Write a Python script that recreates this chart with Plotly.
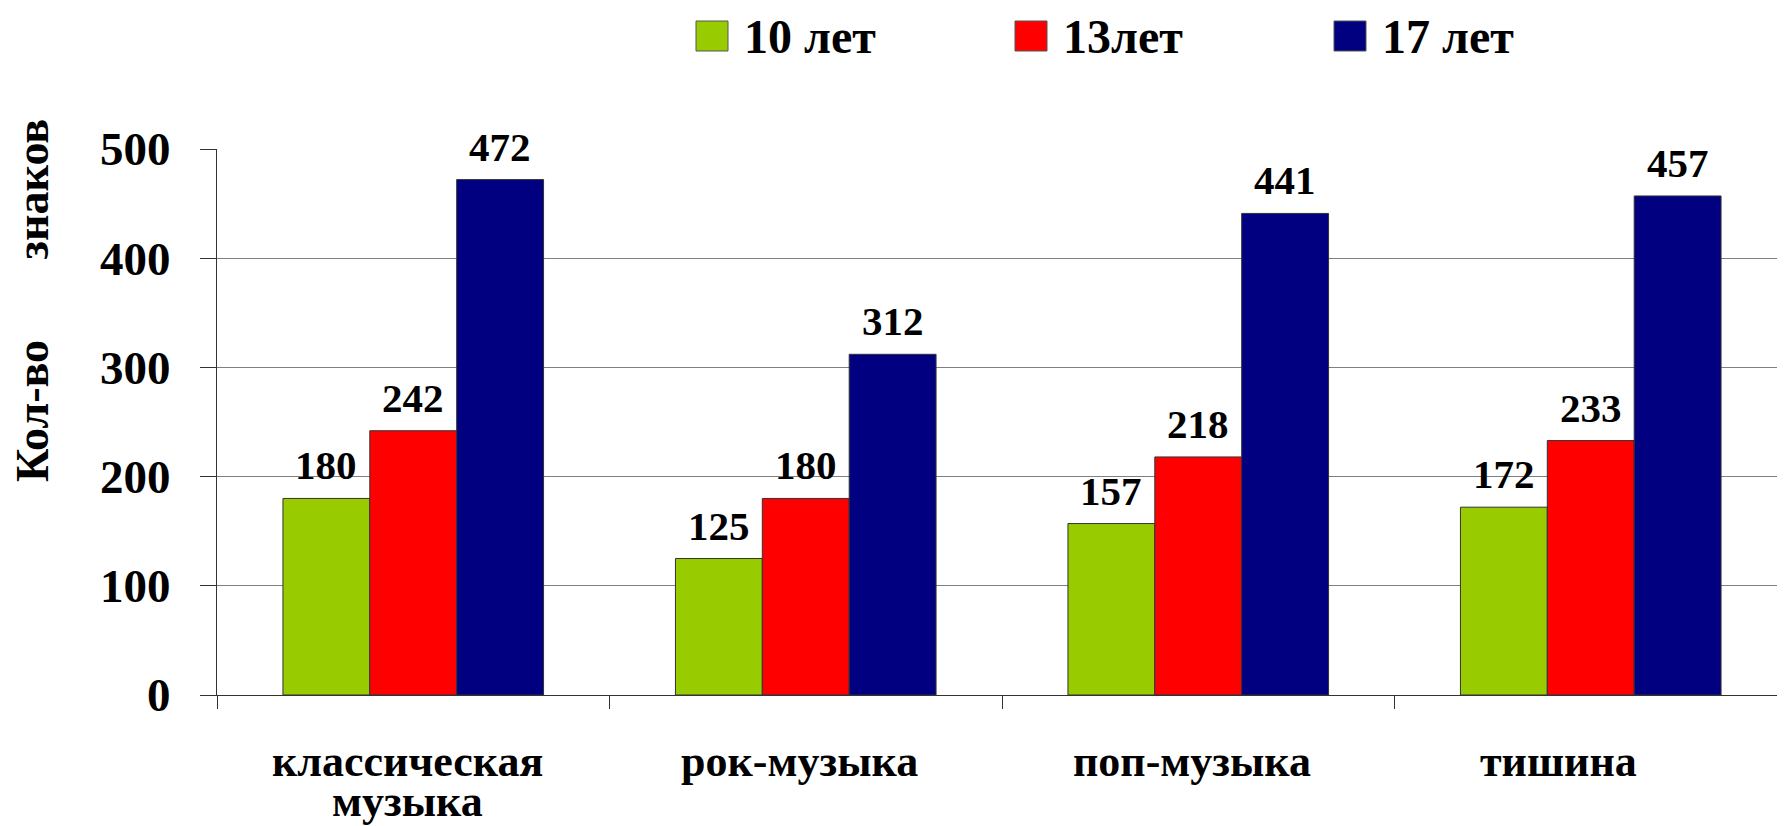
import plotly.graph_objects as go

categories = ["классическая\nмузыка", "рок-музыка", "поп-музыка", "тишина"]
series_names = ["10 лет", "13лет", "17 лет"]
values_10 = [180, 125, 157, 172]
values_13 = [242, 180, 218, 233]
values_17 = [472, 312, 441, 457]
colors = ["#99CC00", "#FF0000", "#000080"]
y_ticks = [0, 100, 200, 300, 400, 500]

FONT = "Liberation Serif, Tinos, Times New Roman, DejaVu Serif, serif"
W, H = 1785, 826
L, R, T, B = 209, 6, 141, 139
BARGAP = 0.336

plot_w = W - L - R
plot_h = H - T - B


def px_x(px):
    return (px - L) / plot_w


def px_y(py):
    return (H - B - py) / plot_h


fig = go.Figure()
all_vals = [values_10, values_13, values_17]
for name, vals, col in zip(series_names, all_vals, colors):
    fig.add_trace(go.Bar(
        x=categories, y=vals, name=name, showlegend=False,
        marker=dict(color=col, line=dict(color="#333333", width=1)),
    ))

cat_w = plot_w / len(categories)
bar_w = cat_w * (1 - BARGAP) / 3
annotations = []
for i, vals in enumerate(all_vals):
    shift = (i - 1) * bar_w
    for c, v in zip(categories, vals):
        annotations.append(dict(
            x=c, y=v, xref="x", yref="y", text=str(v),
            showarrow=False, xshift=shift, yanchor="bottom", yshift=8,
            font=dict(family=FONT, size=41, color="black", weight="bold"),
        ))

label_xshift = {"тишина": -32}
for c in categories:
    lines = c.split("\n")
    for j, ln in enumerate(lines):
        annotations.append(dict(
            x=c, y=0, xref="x", yref="paper", text=ln,
            showarrow=False, xanchor="center", yanchor="middle",
            xshift=label_xshift.get(c, -6), yshift=-66 - 40 * j,
            font=dict(family=FONT, size=44, color="black", weight="bold"),
        ))

# y-axis title
annotations.append(dict(
    x=px_x(24), y=px_y(293), xref="paper", yref="paper",
    xanchor="center", yanchor="middle",
    text="Кол-во" + "&nbsp;" * 7 + "знаков",
    showarrow=False, textangle=-90,
    font=dict(family=FONT, size=46, color="black", weight="bold"),
))

# legend (drawn manually to get large swatches)
shapes = []
for i, (name, col) in enumerate(zip(series_names, colors)):
    x0 = 688 + i * 319
    shapes.append(dict(
        type="rect", xref="paper", yref="paper",
        x0=px_x(x0), x1=px_x(x0 + 32), y0=px_y(43), y1=px_y(13),
        fillcolor=col, line=dict(color="#555555", width=1),
    ))
    annotations.append(dict(
        x=px_x(x0 + 46), y=px_y(28), xref="paper", yref="paper",
        xanchor="left", yanchor="middle", text=name, showarrow=False,
        font=dict(family=FONT, size=48, color="black", weight="bold"),
    ))

fig.update_layout(
    width=W, height=H,
    margin=dict(l=L, r=R, t=T, b=B, pad=0),
    paper_bgcolor="white", plot_bgcolor="white",
    font=dict(family=FONT),
    barmode="group", bargap=BARGAP, bargroupgap=0,
    showlegend=False,
    annotations=annotations,
    shapes=shapes,
    xaxis=dict(
        showticklabels=False, ticks="outside", tickson="boundaries", ticklen=13,
        tickcolor="#333333", showline=True, linecolor="#333333", linewidth=1,
        showgrid=False, fixedrange=True,
    ),
    yaxis=dict(
        range=[0, 500], tickvals=y_ticks, ticks="outside", ticklen=16, tickcolor="#333333",
        showline=True, linecolor="#333333", linewidth=1, mirror=True,
        showgrid=True, gridcolor="#808080", gridwidth=1, zeroline=False,
        tickfont=dict(family=FONT, size=47, color="black", weight="bold"),
        ticklabelstandoff=20, fixedrange=True,
    ),
)

fig.write_html("out.html")
